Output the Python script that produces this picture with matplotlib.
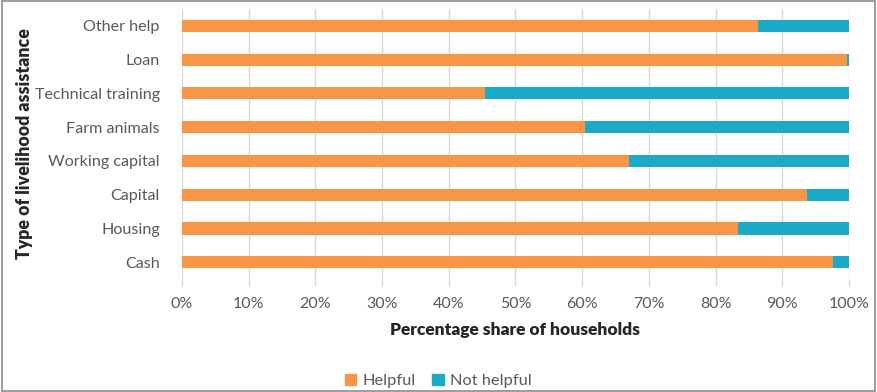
import matplotlib.pyplot as plt
import matplotlib.patches as mpatches
import numpy as np

# Livelihood assistance types, listed bottom to top
categories = ['Cash', 'Housing', 'Capital', 'Working capital',
              'Farm animals', 'Technical training', 'Loan', 'Other help']
helpful = [97.6, 83.3, 93.7, 67.0, 60.5, 45.5, 99.7, 86.4]
not_helpful = [100 - v for v in helpful]
xticks = [0, 10, 20, 30, 40, 50, 60, 70, 80, 90, 100]

orange = '#F79646'
teal = '#1BABC8'
grey_text = '#595959'
grid_col = '#D9D9D9'

plt.rcParams['font.family'] = ['Lato', 'DejaVu Sans']

fig = plt.figure(figsize=(8.77, 3.92), dpi=100)
ax = fig.add_axes([0.2075, 0.288, 0.7605, 0.689])

y = np.arange(len(categories))
bar_h = 0.36
ax.barh(y, helpful, bar_h, color=orange, label='Helpful', zorder=3)
ax.barh(y, not_helpful, bar_h, left=helpful, color=teal, label='Not helpful', zorder=3)

ax.set_xlim(0, 100)
ax.set_ylim(-0.5, len(categories) - 0.5)
ax.set_xticks(xticks)
ax.set_xticklabels([f'{v}%' for v in xticks])
ax.set_yticks(y)
ax.set_yticklabels(categories)

ax.grid(axis='x', color=grid_col, linewidth=1, zorder=0)
for s in ax.spines.values():
    s.set_visible(False)
ax.tick_params(axis='x', colors=grid_col, labelcolor=grey_text, labelsize=11.5,
               length=5, width=1, pad=8)
ax.tick_params(axis='y', length=0, labelcolor=grey_text, labelsize=11.6, pad=16)

ax.set_xlabel('Percentage share of households', fontsize=12.5, fontweight='heavy',
              color='#262626', labelpad=8)
ax.set_ylabel('Type of livelihood assistance', fontsize=12.8, fontweight='heavy',
              color='#262626', labelpad=1)

handles = [mpatches.Patch(color=orange, label='Helpful'),
           mpatches.Patch(color=teal, label='Not helpful')]
leg = fig.legend(handles=handles, loc='center', bbox_to_anchor=(0.5, 0.028),
                 ncol=2, frameon=False, fontsize=11.8, handlelength=0.7,
                 handleheight=0.7, handletextpad=0.4, columnspacing=1.0)
for t in leg.get_texts():
    t.set_color(grey_text)

# thin frame around the whole figure
fig.patches.append(mpatches.Rectangle((0.002, 0.003), 0.996, 0.994,
                                      transform=fig.transFigure, fill=False,
                                      edgecolor='#8C8C8C', linewidth=1.2))

fig.savefig('out.png', dpi=100)
